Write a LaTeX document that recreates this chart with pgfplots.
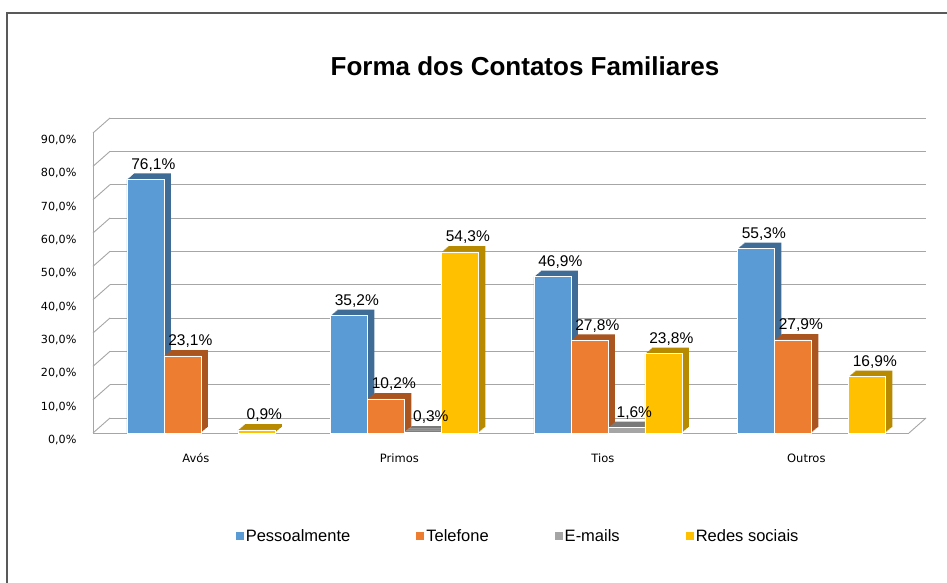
\documentclass[border=0pt]{standalone}
\usepackage{fontspec}
\setmainfont{Liberation Sans}
\newfontfamily\dejavu{DejaVu Sans}
\usepackage{pgfplots}
\usepackage{pgfplotstable}
\pgfplotsset{compat=1.18}
\definecolor{cBlue}{HTML}{5B9BD5}
\definecolor{cOrange}{HTML}{ED7D31}
\definecolor{cGray}{HTML}{A5A5A5}
\definecolor{cYellow}{HTML}{FFC000}
\definecolor{cBlueD}{HTML}{3F6C96}
\definecolor{cOrangeD}{HTML}{AA5520}
\definecolor{cGrayD}{HTML}{797979}
\definecolor{cYellowD}{HTML}{B88A00}
\definecolor{gridc}{HTML}{A6A6A6}
\pgfplotstableread{
x y
0 76.1
1 35.2
2 46.9
3 55.3
}\pessoal
\pgfplotstableread{
x y
0 23.1
1 10.2
2 27.8
3 27.9
}\telefone
\pgfplotstableread{
x y
1 0.3
2 1.6
}\emails
\pgfplotstableread{
x y
0 0.9
1 54.3
2 23.8
3 16.9
}\redes
\begin{document}
\begin{tikzpicture}
\useasboundingbox (0,0) rectangle (947pt,583pt);
\fill[white] (0,0) rectangle (947pt,583pt);
\draw[line width=2pt, color=black!65] (7pt,0) -- (7pt,570pt) -- (947pt,570pt);
\node[font=\fontsize{26}{30}\selectfont\bfseries] at (525pt,517pt) {Forma dos Contatos Familiares};
\begin{axis}[
 at={(93pt,150pt)}, anchor=south west,
 scale only axis, width=816pt, height=300pt,
 xmin=-0.53, xmax=3.48, ymin=0, ymax=90,
 ybar, bar width=37pt,
 clip=false,
 axis x line*=bottom, axis y line*=left,
 axis line style={gridc, line width=0.8pt},
 xtick={0,1,2,3}, xticklabels={Avós,Primos,Tios,Outros},
 major tick length=0pt,
 ytick={0,10,...,90},
 ymajorgrids, major grid style={gridc, line width=0.9pt, xshift=17pt, yshift=15pt},
 /pgf/number format/assume math mode=true,
 yticklabel={\pgfmathprintnumber[fixed,fixed zerofill,precision=1,use comma]{\tick}\%},
 yticklabel style={font=\dejavu\fontsize{11.2}{13}\selectfont, xshift=-13pt, yshift=-7pt},
 xticklabel style={font=\dejavu\fontsize{11.5}{13}\selectfont, yshift=-17pt, xshift=-5pt},
 every node near coord/.append style={font=\fontsize{15.5}{18}\selectfont, anchor=base, inner sep=0pt, xshift=8pt, yshift=10pt, text=black},
 legend style={at={(0.521,-0.343)}, anchor=center, draw=none, font=\fontsize{16.5}{19}\selectfont, legend columns=4, /tikz/every even column/.append style={column sep=64pt}},
 legend image code/.code={\fill[#1, draw=none] (0pt,-4pt) rectangle (8pt,4pt);},
 front/.style={draw=white, line width=0.6pt,
   nodes near coords={\pgfmathprintnumber[fixed,fixed zerofill,precision=1,use comma]{\pgfplotspointmeta}\%}},
]
\pgfplotsinvokeforeach{0,10,...,90}{\draw[gridc, line width=0.9pt] (axis cs:-0.53,#1) -- ++(17pt,15pt);}
\draw[gridc, line width=0.9pt] (axis cs:3.48,0) -- ++(17pt,15pt);
% Pessoalmente
\pgfplotsinvokeforeach{7,6,...,1}{\addplot[forget plot, fill=cBlueD, draw=none, bar shift=-55.5pt, xshift=#1pt, yshift={0.85*#1pt}] table[x=x,y=y] {\pessoal};}
\addplot[fill=cBlue, front, bar shift=-55.5pt] table[x=x,y=y] {\pessoal};
% Telefone
\pgfplotsinvokeforeach{7,6,...,1}{\addplot[forget plot, fill=cOrangeD, draw=none, bar shift=-18.5pt, xshift=#1pt, yshift={0.85*#1pt}] table[x=x,y=y] {\telefone};}
\addplot[fill=cOrange, front, bar shift=-18.5pt] table[x=x,y=y] {\telefone};
% E-mails
\pgfplotsinvokeforeach{7,6,...,1}{\addplot[forget plot, fill=cGrayD, draw=none, bar shift=18.5pt, xshift=#1pt, yshift={0.85*#1pt}] table[x=x,y=y] {\emails};}
\addplot[fill=cGray, front, bar shift=18.5pt] table[x=x,y=y] {\emails};
% Redes sociais
\pgfplotsinvokeforeach{7,6,...,1}{\addplot[forget plot, fill=cYellowD, draw=none, bar shift=55.5pt, xshift=#1pt, yshift={0.85*#1pt}] table[x=x,y=y] {\redes};}
\addplot[fill=cYellow, front, bar shift=55.5pt] table[x=x,y=y] {\redes};
\legend{Pessoalmente,Telefone,E-mails,Redes sociais}
\end{axis}
\end{tikzpicture}
\end{document}
